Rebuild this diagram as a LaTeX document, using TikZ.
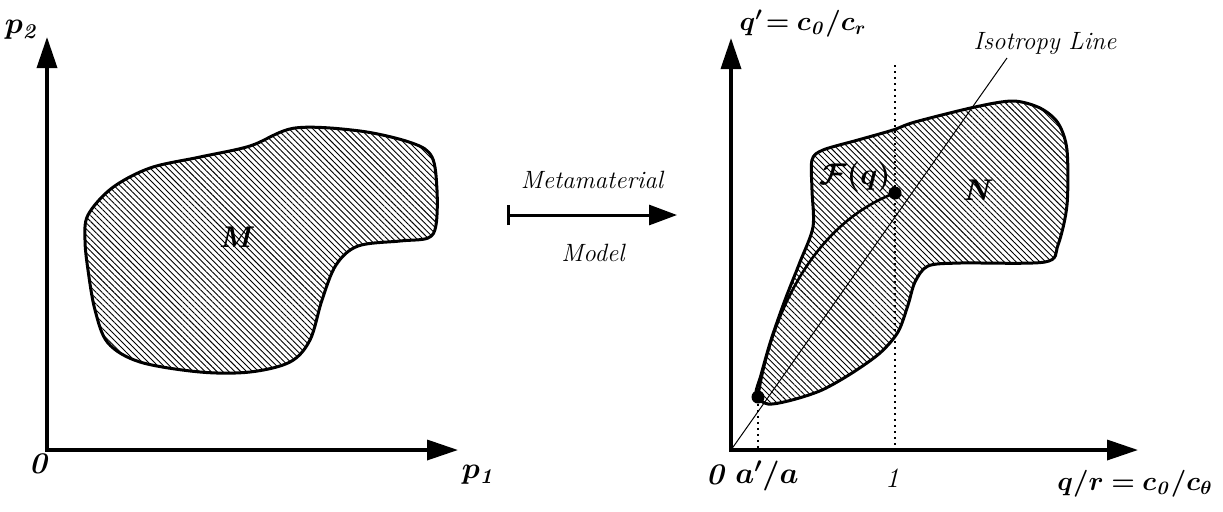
\RequirePackage{fix-cm}
\documentclass[tikz,border=0pt]{standalone}
\usepackage{amsmath, bm}
\usetikzlibrary{arrows.meta, patterns.meta}

\tikzset{
  axis/.style={line width=1.75pt, line join=miter,
    {Triangle[length=15.5pt,width=10pt]}-{Triangle[length=15.5pt,width=10pt]}},
  blob/.style={line width=1.5pt, line join=round,
    pattern={Lines[angle=-45,distance=2.1pt,line width=0.45pt]}},
  lbl/.style={font=\fontsize{15}{18}\selectfont\bfseries\itshape, inner sep=1pt},
  axlbl/.style={font=\fontsize{13.5}{16}\selectfont\bfseries\itshape, inner sep=1pt},
  note/.style={font=\fontsize{12.5}{15}\selectfont\itshape, inner sep=1pt},
  guide/.style={line width=1pt, dash pattern=on 1pt off 2pt},
  dot/.style={circle, fill, inner sep=0pt, minimum size=6.5pt},
}

\begin{document}
\begin{tikzpicture}[x=0.5pt, y=-0.5pt]
  \useasboundingbox (0,0) rectangle (1223,511);
  % axes of both planes
  \foreach \n/\ox/\xt/\yt in {1/47/458/37, 2/731/1138/38} {
    \coordinate (o\n) at (\ox,450);
    \coordinate (x\n) at (\xt,450);
    \coordinate (y\n) at (\ox,\yt);
    \draw[axis] (y\n) -- (o\n) -- (x\n);
  }
  \node[lbl] (p2) at (22,30) {$\bm{p_{\mathit{2}}}$};
  \node[lbl] (z1) at (38,464) {0};
  \node[lbl] (p1) at (479,475) {$\bm{p_{\mathit{1}}}$};
  \node[lbl] (z2) at (715,475) {0};
  \node[lbl] (ar) at (767,476) {$\bm{a'/a}$};
  \node[note, font=\fontsize{14}{16}\selectfont\itshape] (one) at (892,478) {1};
  \node[axlbl] (qv) at (803,24) {$\bm{q'\!= c_{\mathit{0}}/c_r}$};
  \node[axlbl] (qh) at (1135,484) {$\bm{q/r = c_{\mathit{0}}/c_\theta}$};

  % region M in the parameter plane
  \draw[blob] plot[smooth cycle, tension=0.55] coordinates {
    (88,215) (112,188) (150,168) (200,157) (250,146) (295,128) (360,131)
    (412,143) (432,157) (437,190) (436,225) (428,238) (400,241) (358,246)
    (336,265) (322,300) (310,340) (290,362) (250,372) (200,372) (140,362)
    (108,343) (95,310) (88,270) (85,240)};
  \node[lbl] (M) at (235,237) {M};

  % the model map
  \coordinate (m0) at (507,215);
  \coordinate (m1) at (677,215);
  \draw[line width=1.5pt, {Bar[width=10pt]}-{Triangle[length=14pt,width=10pt]}] (m0) -- (m1);
  \node[note] (meta) at (592,180) {Metamaterial};
  \node[note] (model) at (593,253) {Model};

  % region N in the material plane
  \draw[blob] plot[smooth cycle, tension=0.5] coordinates {
    (812,160) (812,190) (813,227) (800,262) (785,300) (771,340) (761,375)
    (756,395) (768,404) (792,400) (822,390) (852,373) (880,353) (898,332)
    (908,305) (915,282) (928,266) (960,263) (1045,262) (1058,245) (1067,205)
    (1067,150) (1058,123) (1040,108) (1013,101) (975,107) (915,122) (893,130)
    (858,140) (823,150)};
  \node[lbl] (N) at (976,190) {N};

  \coordinate (iso) at (1007,58);
  \draw[line width=0.5pt] (o2) -- (iso);
  \node[note] (isol) at (1045,44) {Isotropy Line};

  \node[dot] (fa) at (758,397) {};
  \node[dot] (fq) at (895,193) {};
  \coordinate (a2) at (758,450);
  \coordinate (t1) at (895,65);
  \coordinate (u1) at (895,450);
  \draw[guide] (fa) -- (a2);
  \draw[guide] (t1) -- (u1);
  \draw[line width=1.3pt] (fa.center) .. controls (770,320) and (810,225) .. (fq.center);
  \node[lbl] (F) at (855,177) {$\bm{\mathcal{F}(q)}$};
\end{tikzpicture}
\end{document}
